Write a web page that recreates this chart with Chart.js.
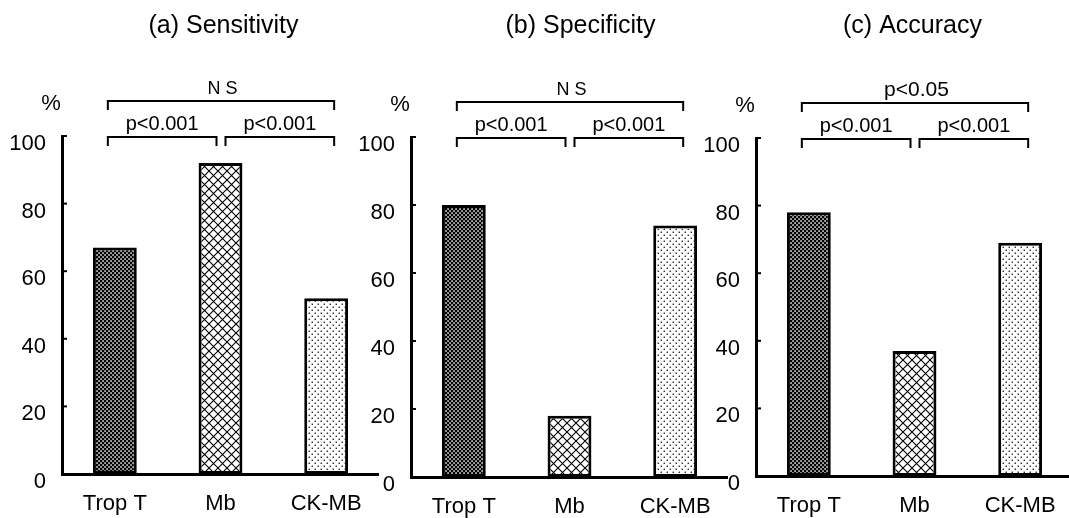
<!DOCTYPE html>
<html>
<head>
<meta charset="utf-8">
<script src="https://cdn.jsdelivr.net/npm/chart.js@4"></script>
<style>
  html, body { margin: 0; padding: 0; background: #fff; overflow: hidden; }
  #wrap { position: relative; width: 1069px; height: 518px; overflow: hidden; }
  canvas { position: absolute; top: 0; }
</style>
</head>
<body>
<div id="wrap">
  <canvas id="panelA"></canvas>
  <canvas id="panelB"></canvas>
  <canvas id="panelC"></canvas>
</div>
<script>
// data
const categories = ["Trop T", "Mb", "CK-MB"];
const sensitivity = [67, 92, 52];
const specificity = [80, 18, 74];
const accuracy = [78, 37, 69];
const titles = ["(a) Sensitivity", "(b) Specificity", "(c) Accuracy"];
const overallTests = ["N S", "N S", "p<0.05"];
const pairTests = [
  ["p<0.001", "p<0.001"],
  ["p<0.001", "p<0.001"],
  ["p<0.001", "p<0.001"]
];
const yMax = 100;
const yStep = 20;

const FONT = "'Liberation Sans', Arial, Helvetica, sans-serif";
const Y_WIDTH = 60;
const AREA_W = 317;

function makePattern(kind) {
  const c = document.createElement("canvas");
  const g = c.getContext("2d");
  if (kind === "dense") {
    c.width = c.height = 4;
    g.fillStyle = "#000";
    g.fillRect(0, 0, 4, 4);
    g.fillStyle = "#fff";
    g.fillRect(0.3, 0.3, 1.5, 1.5);
    g.fillRect(2.3, 2.3, 1.5, 1.5);
  } else if (kind === "cross") {
    c.width = c.height = 9;
    g.fillStyle = "#fff";
    g.fillRect(0, 0, 9, 9);
    g.strokeStyle = "#000";
    g.lineWidth = 1.1;
    g.beginPath();
    g.moveTo(0, 0); g.lineTo(9, 9);
    g.moveTo(9, 0); g.lineTo(0, 9);
    g.stroke();
  } else {
    c.width = c.height = 6;
    g.fillStyle = "#fff";
    g.fillRect(0, 0, 6, 6);
    g.fillStyle = "#000";
    g.fillRect(0.6, 0.6, 1.3, 1.3);
    g.fillRect(3.6, 3.6, 1.3, 1.3);
  }
  return g.createPattern(c, "repeat");
}

const fills = [makePattern("dense"), makePattern("cross"), makePattern("dots")];

// where each panel sits on the page
const panels = [
  { id: "panelA", values: sensitivity, axisX: 62, top: 136, bottom: 474, titleShift: 3 },
  { id: "panelB", values: specificity, axisX: 411, top: 137, bottom: 477, titleShift: 11 },
  { id: "panelC", values: accuracy, axisX: 756, top: 138, bottom: 476, titleShift: -2 }
];

function bracket(ctx, x1, x2, y) {
  ctx.beginPath();
  ctx.moveTo(x1, y + 9);
  ctx.lineTo(x1, y);
  ctx.lineTo(x2, y);
  ctx.lineTo(x2, y + 9);
  ctx.stroke();
}

const annotations = {
  id: "annotations",
  afterDraw(chart, args, opts) {
    const ctx = chart.ctx;
    const area = chart.chartArea;
    const xs = chart.scales.x;
    const ys = chart.scales.y;
    const k = opts.index;
    const c0 = xs.getPixelForValue(0);
    const c1 = xs.getPixelForValue(1);
    const c2 = xs.getPixelForValue(2);
    ctx.save();
    ctx.fillStyle = "#000";
    ctx.strokeStyle = "#000";

    // title
    ctx.font = "25px " + FONT;
    ctx.textAlign = "center";
    ctx.textBaseline = "alphabetic";
    ctx.fillText(titles[k], (area.left + area.right) / 2 + opts.titleShift, 33);

    // unit
    ctx.font = "22px " + FONT;
    ctx.fillText("%", area.left - 11, area.top - 26);

    // significance brackets
    ctx.lineWidth = 2;
    const yOuter = area.top - 35;
    const yInner = area.top + 1;
    bracket(ctx, c0 - 7, c2 + 8, yOuter);
    bracket(ctx, c0 - 7, c1 - 4, yInner);
    bracket(ctx, c1 + 5, c2 + 8, yInner);
    ctx.font = (overallTests[k] === "N S" ? "18px " : "21px ") + FONT;
    ctx.fillText(overallTests[k], (c0 + c2) / 2 + 2, yOuter - 7);
    ctx.font = "20px " + FONT;
    ctx.fillText(pairTests[k][0], (c0 - 7 + c1 - 4) / 2, yInner - 7);
    ctx.fillText(pairTests[k][1], (c1 + 5 + c2 + 8) / 2, yInner - 7);

    // short inward ticks on the value axis
    ctx.lineWidth = 2;
    for (let v = 0; v <= yMax; v += yStep) {
      const py = ys.getPixelForValue(v);
      ctx.beginPath();
      ctx.moveTo(area.left, py);
      ctx.lineTo(area.left + 5, py);
      ctx.stroke();
    }
    ctx.restore();
  }
};

panels.forEach((p, k) => {
  const el = document.getElementById(p.id);
  el.style.left = (p.axisX - Y_WIDTH) + "px";
  el.width = Y_WIDTH + AREA_W;
  el.height = 518;
  el.style.width = el.width + "px";
  el.style.height = "518px";

  new Chart(el.getContext("2d"), {
    type: "bar",
    data: {
      labels: categories,
      datasets: [{
        data: p.values,
        backgroundColor: fills,
        borderColor: "#000",
        borderWidth: 3,
        borderSkipped: false,
        categoryPercentage: 1,
        barPercentage: 0.415
      }]
    },
    options: {
      responsive: false,
      animation: false,
      devicePixelRatio: 1,
      layout: { padding: { top: p.top, left: 0, right: 0, bottom: 0 } },
      plugins: {
        legend: { display: false },
        tooltip: { enabled: false },
        annotations: { index: k, titleShift: p.titleShift }
      },
      scales: {
        x: {
          grid: { display: false, drawTicks: false },
          border: { display: true, color: "#000", width: 3 },
          ticks: { color: "#000", font: { family: FONT, size: 22 }, padding: 17, maxRotation: 0 },
          afterFit(scale) { scale.height = 518 - p.bottom; }
        },
        y: {
          min: 0,
          max: yMax,
          grid: { display: false, drawTicks: false },
          border: { display: true, color: "#000", width: 3 },
          ticks: { stepSize: yStep, color: "#000", font: { family: FONT, size: 22 }, padding: 16, labelOffset: 8 },
          afterFit(scale) { scale.width = Y_WIDTH; }
        }
      }
    },
    plugins: [annotations]
  });
});
</script>
</body>
</html>
